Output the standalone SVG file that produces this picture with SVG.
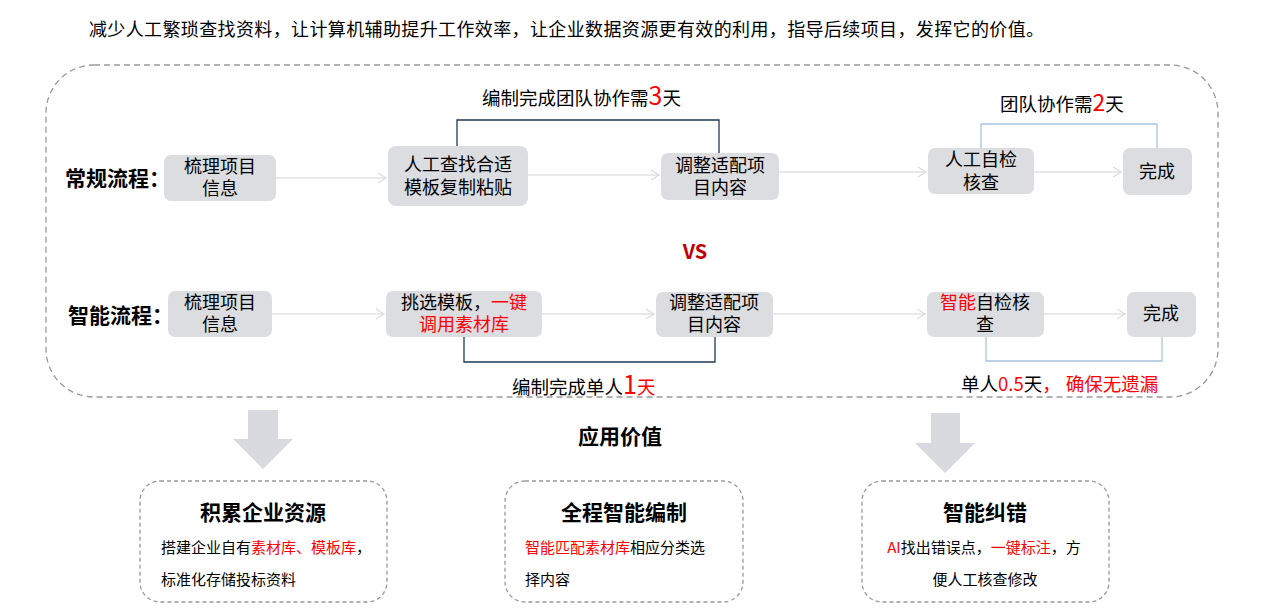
<svg xmlns="http://www.w3.org/2000/svg" width="1262" height="616" viewBox="0 0 1262 616">
<defs>
<style>
text{font-family:"Noto Sans CJK SC","Liberation Sans",sans-serif;fill:#000}
.n{fill:#dcdde1}
.nt{font-size:18px;text-anchor:middle}
.lab{font-size:18.5px}
.b{font-weight:bold}
.r{fill:#ff0000}
.conn{stroke:#e2e2e4;stroke-width:1.5;fill:none}
.navy{stroke:#1f3a56;stroke-width:1.3;fill:none}
.lblue{stroke:#a8c4de;stroke-width:1.3;fill:none}
.dash{fill:none;stroke:#9a9a9a;stroke-width:1.3;stroke-dasharray:6 4}
.card{fill:#fff;stroke:#999;stroke-width:1.3;stroke-dasharray:4 3}
.ct{font-size:21px;font-weight:bold;text-anchor:middle}
.cl{font-size:15px}
.big{fill:#d9dadf}
</style>
<marker id="chev" markerWidth="12" markerHeight="12" refX="10" refY="6" orient="auto" markerUnits="userSpaceOnUse">
<path d="M2,1 L10,6 L2,11" fill="none" stroke="#dcdcde" stroke-width="1.3"/>
</marker>
</defs>
<rect width="1262" height="616" fill="#fff"/>

<text x="89" y="36" font-size="18" textLength="955" lengthAdjust="spacing">减少人工繁琐查找资料，让计算机辅助提升工作效率，让企业数据资源更有效的利用，指导后续项目，发挥它的价值。</text>

<rect id="frame" class="dash" x="46" y="65" width="1172" height="332" rx="48" ry="48"/>

<text x="65" y="186" font-size="21" class="b">常规流程：</text>
<text x="68" y="323" font-size="21" class="b">智能流程：</text>
<text x="695" y="259" font-size="20" class="b" text-anchor="middle" style="fill:#c00000">VS</text>

<g id="connectors">
<line class="conn" x1="276" y1="178" x2="386" y2="178" marker-end="url(#chev)"/>
<line class="conn" x1="528" y1="175" x2="659" y2="175" marker-end="url(#chev)"/>
<line class="conn" x1="779" y1="172" x2="926" y2="172" marker-end="url(#chev)"/>
<line class="conn" x1="1034" y1="172" x2="1121" y2="172" marker-end="url(#chev)"/>
<line class="conn" x1="272" y1="314" x2="384" y2="314" marker-end="url(#chev)"/>
<line class="conn" x1="542" y1="314" x2="654" y2="314" marker-end="url(#chev)"/>
<line class="conn" x1="773" y1="314" x2="925" y2="314" marker-end="url(#chev)"/>
<line class="conn" x1="1044" y1="314" x2="1125" y2="314" marker-end="url(#chev)"/>
<polyline class="navy" points="457,146 457,120 719,120 719,153"/>
<polyline class="lblue" points="981,148 981,124 1157,124 1157,148"/>
<polyline class="navy" points="464,337 464,362 715,362 715,337"/>
<polyline class="lblue" points="986,337 986,361 1162,361 1162,337"/>
</g>

<g id="labels">
<text class="lab" x="482" y="105">编制完成团队协作需<tspan class="r" font-size="25">3</tspan>天</text>
<text class="lab" x="1000" y="111">团队协作需<tspan class="r" font-size="23">2</tspan>天</text>
<text class="lab" x="512" y="394">编制完成单人<tspan class="r" font-size="25">1</tspan><tspan class="r">天</tspan></text>
<text class="lab" x="961" y="391">单人<tspan class="r">0.5</tspan>天<tspan class="r">，</tspan><tspan class="r" dx="5">确保无遗漏</tspan></text>
</g>

<g id="A1"><rect class="n" x="164" y="155" width="112" height="46" rx="7"/><text class="nt" x="220" y="173">梳理项目</text><text class="nt" x="220" y="195">信息</text></g>
<g id="A2"><rect class="n" x="388" y="146" width="140" height="60" rx="8"/><text class="nt" x="458" y="171">人工查找合适</text><text class="nt" x="458" y="194">模板复制粘贴</text></g>
<g id="A3"><rect class="n" x="661" y="153" width="118" height="47" rx="7"/><text class="nt" x="720" y="172">调整适配项</text><text class="nt" x="720" y="194">目内容</text></g>
<g id="A4"><rect class="n" x="928" y="148" width="106" height="46" rx="7"/><text class="nt" x="981" y="166">人工自检</text><text class="nt" x="981" y="189">核查</text></g>
<g id="A5"><rect class="n" x="1123" y="148" width="69" height="47" rx="7"/><text class="nt" x="1157" y="178">完成</text></g>

<g id="B1"><rect class="n" x="168" y="291" width="104" height="46" rx="7"/><text class="nt" x="220" y="309">梳理项目</text><text class="nt" x="220" y="331">信息</text></g>
<g id="B2"><rect class="n" x="386" y="291" width="156" height="46" rx="7"/><text class="nt" x="464" y="309">挑选模板，<tspan class="r">一键</tspan></text><text class="nt r" x="464" y="331">调用素材库</text></g>
<g id="B3"><rect class="n" x="656" y="292" width="117" height="45" rx="7"/><text class="nt" x="714" y="309">调整适配项</text><text class="nt" x="714" y="331">目内容</text></g>
<g id="B4"><rect class="n" x="927" y="292" width="117" height="45" rx="7"/><text class="nt" x="985" y="309"><tspan class="r">智能</tspan>自检核</text><text class="nt" x="985" y="331">查</text></g>
<g id="B5"><rect class="n" x="1127" y="292" width="69" height="45" rx="7"/><text class="nt" x="1161" y="320">完成</text></g>

<text x="620" y="444" font-size="21" class="b" text-anchor="middle">应用价值</text>

<g id="value-arrows">
<polygon class="big" points="248,410 278,410 278,439 293,439 263,469 233,439 248,439"/>
<polygon class="big" points="931,413 960,413 960,443 975,443 945,473 915,443 931,443"/>
</g>

<g id="card1"><rect class="card" x="140" y="481" width="247" height="121" rx="20"/>
<text class="ct" x="263" y="520">积累企业资源</text>
<text class="cl" x="161" y="553">搭建企业自有<tspan class="r">素材库、模板库</tspan>，</text>
<text class="cl" x="161" y="585">标准化存储投标资料</text></g>
<g id="card2"><rect class="card" x="505" y="481" width="238" height="121" rx="20"/>
<text class="ct" x="624" y="520">全程智能编制</text>
<text class="cl" x="525" y="553"><tspan class="r">智能匹配素材库</tspan>相应分类选</text>
<text class="cl" x="525" y="585">择内容</text></g>
<g id="card3"><rect class="card" x="862" y="481" width="247" height="121" rx="20"/>
<text class="ct" x="985" y="520">智能纠错</text>
<text class="cl" x="984" y="553" text-anchor="middle"><tspan class="r">AI</tspan>找出错误点，<tspan class="r">一键标注</tspan>，方</text>
<text class="cl" x="985" y="585" text-anchor="middle">便人工核查修改</text></g>
</svg>
